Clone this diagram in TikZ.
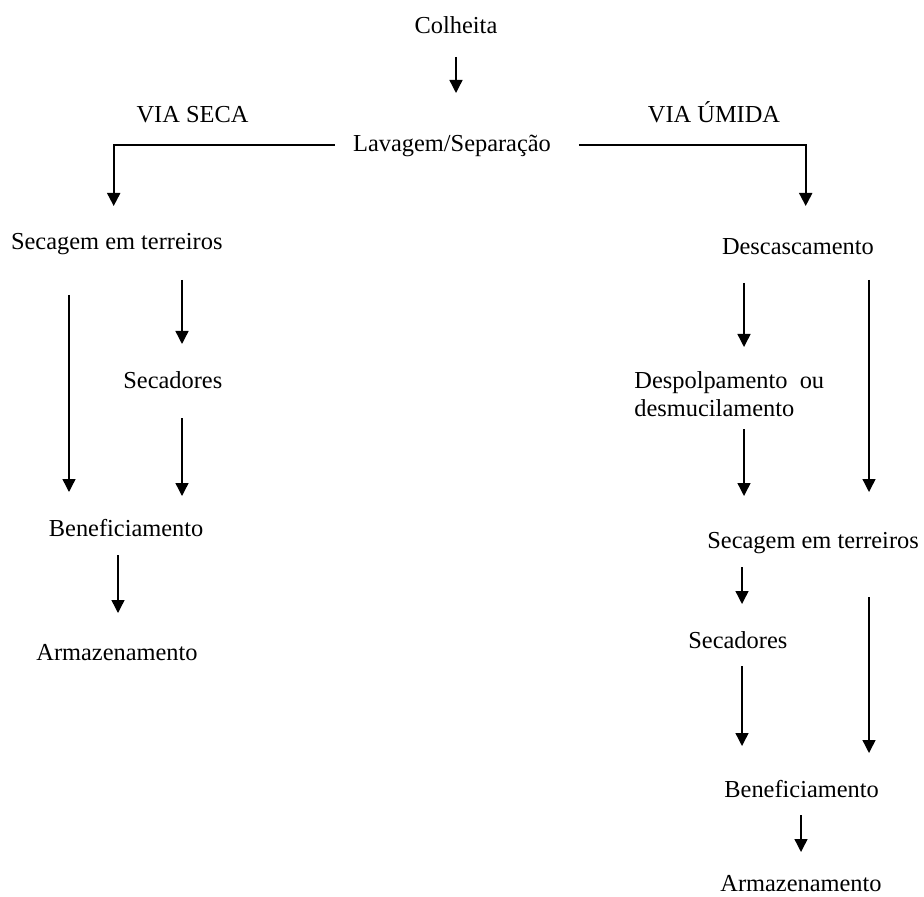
\documentclass[tikz,border=0pt]{standalone}
\usepackage{fontspec}
\setmainfont{Liberation Serif}
\usetikzlibrary{arrows.meta}
\begin{document}
\begin{tikzpicture}[x=0.5pt,y=-0.5pt,
  lbl/.style={inner sep=0pt,font=\fontsize{12.2}{14}\selectfont},
  arr/.style={line width=0.7pt,-{Triangle[width=6.5pt,length=6.5pt]}},
  hline/.style={line width=1pt,-{Triangle[width=6.5pt,length=6.5pt]}}]
\useasboundingbox (0,0) rectangle (924,897);
% texts
\node[lbl,anchor=base] (colheita) at (456,34) {Colheita};
\node[lbl,anchor=base] (viaseca) at (192.5,123) {VIA SECA};
\node[lbl,anchor=base] (viaumida) at (714,123) {VIA ÚMIDA};
\node[lbl,anchor=base] (lavagem) at (452,151.7) {Lavagem/Separação};
\node[lbl,anchor=base west] (secL) at (10.7,250) {Secagem em terreiros};
\node[lbl,anchor=base west] (descasc) at (721.6,255) {Descascamento};
\node[lbl,anchor=base west] (secadL) at (123,388) {Secadores};
\node[lbl,anchor=base west] (benefL) at (48.5,536) {Beneficiamento};
\node[lbl,anchor=base west] (armL) at (36,660) {Armazenamento};
\node[lbl,anchor=base west] (despolpa) at (634,388) {Despolpamento\ \ ou};
\node[lbl,anchor=base west] (desmuc) at (634,416) {desmucilamento};
\node[lbl,anchor=base west] (secR) at (707,548) {Secagem em terreiros};
\node[lbl,anchor=base west] (secadR) at (688,648) {Secadores};
\node[lbl,anchor=base west] (benefR) at (724,797) {Beneficiamento};
\node[lbl,anchor=base west] (armR) at (720,891.5) {Armazenamento};
% arrow end points
\coordinate (a1s) at (456,57);   \coordinate (a1e) at (456,93);
\coordinate (hl1) at (334.7,145); \coordinate (hl2) at (113.7,145); \coordinate (hl3) at (113.7,206);
\coordinate (hr1) at (578.8,145); \coordinate (hr2) at (805.7,145); \coordinate (hr3) at (805.7,206);
\coordinate (l1s) at (69,295);  \coordinate (l1e) at (69,492);
\coordinate (l2s) at (182,280); \coordinate (l2e) at (182,344);
\coordinate (l3s) at (182,418); \coordinate (l3e) at (182,496);
\coordinate (l4s) at (118,555); \coordinate (l4e) at (118,613);
\coordinate (r1s) at (744,283); \coordinate (r1e) at (744,347);
\coordinate (r2s) at (869,280); \coordinate (r2e) at (869,492);
\coordinate (r3s) at (744,429); \coordinate (r3e) at (744,496);
\coordinate (r4s) at (742,567); \coordinate (r4e) at (742,604);
\coordinate (r5s) at (869,597); \coordinate (r5e) at (869,753);
\coordinate (r6s) at (742,666); \coordinate (r6e) at (742,746);
\coordinate (r7s) at (801,815); \coordinate (r7e) at (801,852);
% connectors
\draw[arr] (a1s) -- (a1e);
\draw[hline] (hl1) -- (hl2) -- (hl3);
\draw[hline] (hr1) -- (hr2) -- (hr3);
\draw[arr] (l1s) -- (l1e);
\draw[arr] (l2s) -- (l2e);
\draw[arr] (l3s) -- (l3e);
\draw[arr] (l4s) -- (l4e);
\draw[arr] (r1s) -- (r1e);
\draw[arr] (r2s) -- (r2e);
\draw[arr] (r3s) -- (r3e);
\draw[arr] (r4s) -- (r4e);
\draw[arr] (r5s) -- (r5e);
\draw[arr] (r6s) -- (r6e);
\draw[arr] (r7s) -- (r7e);
\end{tikzpicture}
\end{document}
